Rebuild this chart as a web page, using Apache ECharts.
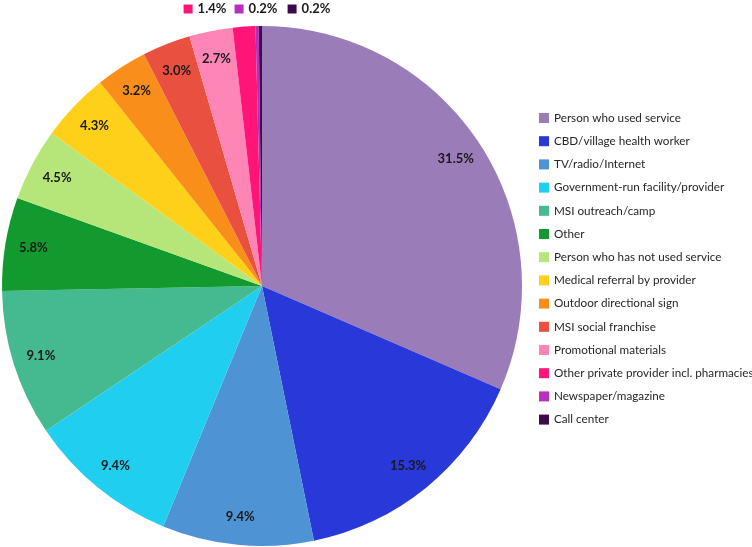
<!DOCTYPE html>
<html>
<head>
<meta charset="utf-8">
<script src="https://cdn.jsdelivr.net/npm/echarts@6/dist/echarts.min.js"></script>
<style>html,body{margin:0;padding:0;background:#fff;}#c{width:752px;height:547px;}</style>
</head>
<body>
<div id="c"></div>
<script>
const categories = [
  'Person who used service',
  'CBD/village health worker',
  'TV/radio/Internet',
  'Government-run facility/provider',
  'MSI outreach/camp',
  'Other',
  'Person who has not used service',
  'Medical referral by provider',
  'Outdoor directional sign',
  'MSI social franchise',
  'Promotional materials',
  'Other private provider incl. pharmacies',
  'Newspaper/magazine',
  'Call center'
];
const values = [31.5, 15.3, 9.4, 9.4, 9.1, 5.8, 4.5, 4.3, 3.2, 3.0, 2.7, 1.4, 0.2, 0.2];
const colors = ['#9a7cb9', '#2838d9', '#4e93d3', '#20cff0', '#45b98f', '#129a2e', '#b6e67a',
  '#ffd01a', '#fa8e1b', '#e9503f', '#fd86b6', '#ff1478', '#b72fbe', '#3e0a4e'];

const CX = 262, CY = 286, R = 260;
const FONT = 'Lato, "Open Sans", sans-serif';
const outsideOffsets = {11: -57, 12: -6, 13: 47};

const chart = echarts.init(document.getElementById('c'), null, {renderer: 'canvas'});

const mainData = categories.map((n, i) => ({name: n, value: values[i], itemStyle: {color: colors[i]}}));
const labelData = categories.map((n, i) => {
  const item = {name: n, value: values[i]};
  if (outsideOffsets[i] !== undefined) {
    item.label = {
      position: 'outside',
      formatter: p => '{k|}{v|' + p.value.toFixed(1) + '%}',
      rich: {
        k: {backgroundColor: colors[i], width: 9, height: 9, padding: 0},
        v: {fontSize: 13, fontWeight: 'bold', color: '#1a1a1a', fontFamily: FONT, padding: [0, 0, 0, 5]}
      }
    };
    item.labelLine = {show: false};
  }
  return item;
});

chart.setOption({
  animation: false,
  legend: {
    data: categories,
    orient: 'vertical',
    left: 534,
    top: 107,
    icon: 'rect',
    itemWidth: 10,
    itemHeight: 10,
    itemGap: 11.2,
    selectedMode: false,
    textStyle: {fontSize: 11.7, color: '#262626', fontFamily: FONT}
  },
  series: [
    {
      type: 'pie',
      center: [CX, CY],
      radius: [0, R],
      startAngle: 90,
      clockwise: true,
      label: {show: false},
      labelLine: {show: false},
      silent: true,
      data: mainData
    },
    {
      type: 'pie',
      center: [CX, CY],
      radius: [R * 0.76, R],
      startAngle: 90,
      clockwise: true,
      silent: true,
      avoidLabelOverlap: false,
      itemStyle: {color: 'rgba(0,0,0,0)'},
      label: {
        show: true,
        position: 'inside',
        formatter: p => p.value.toFixed(1) + '%',
        fontSize: 13,
        fontWeight: 'bold',
        color: '#1a1a1a',
        fontFamily: FONT
      },
      labelLine: {show: false},
      labelLayout: p => {
        const off = outsideOffsets[p.dataIndex];
        if (off !== undefined) {
          return {x: CX + off, y: 9, align: 'center', verticalAlign: 'middle'};
        }
        return {};
      },
      data: labelData
    }
  ]
});
</script>
</body>
</html>
